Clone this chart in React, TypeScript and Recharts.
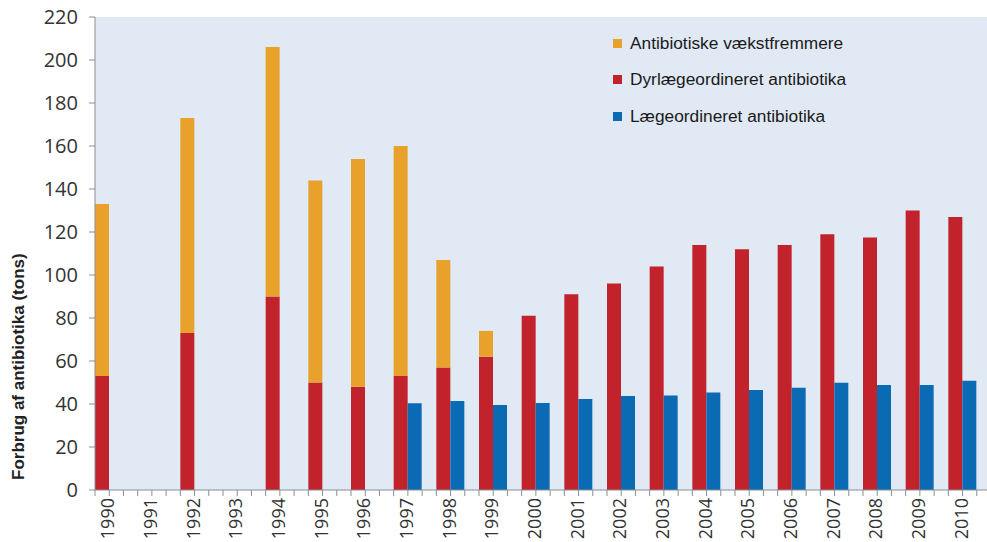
import React from 'react';
import { BarChart, Bar, XAxis, YAxis, CartesianGrid, Legend, Label } from 'recharts';

const years = ['1990', '1991', '1992', '1993', '1994', '1995', '1996', '1997', '1998', '1999', '2000',
  '2001', '2002', '2003', '2004', '2005', '2006', '2007', '2008', '2009', '2010'];
// Dyrlægeordineret antibiotika (tons)
const dyrlaege = [53, null, 73, null, 90, 50, 48, 53, 57, 62, 81, 91, 96, 104, 114, 112, 114, 119, 117.5, 130, 127];
// Antibiotiske vækstfremmere (stacked on top of dyrlæge)
const vaekst = [80, null, 100, null, 116, 94, 106, 107, 50, 12, null, null, null, null, null, null, null, null, null, null, null];
// Lægeordineret antibiotika (tons)
const laege = [null, null, null, null, null, null, null, 40.3, 41.4, 39.5, 40.5, 42.3, 43.7, 44, 45.4, 46.5, 47.6, 49.9, 48.8, 48.8, 50.8];
const yTicks = [0, 20, 40, 60, 80, 100, 120, 140, 160, 180, 200, 220];

const series = [
  { key: 'vaekst', name: 'Antibiotiske vækstfremmere', color: '#e8a22b' },
  { key: 'dyrlaege', name: 'Dyrlægeordineret antibiotika', color: '#c1222b' },
  { key: 'laege', name: 'Lægeordineret antibiotika', color: '#0b6ab4' },
];

const data = years.map((year, i) => ({
  year,
  dyrlaege: dyrlaege[i],
  vaekst: vaekst[i],
  laege: laege[i],
}));

const CHART_W = 991;
const CHART_H = 542;
const Y_W = 95;
const BAND = (CHART_W - Y_W) / years.length;
const AXIS_GREY = '#8a8f96';
const TEXT = '#333333';

const YearTick = (props: any) => {
  const { x, y, payload } = props;
  const left = x - BAND / 2;
  const mid = x - BAND / 6;
  const right = x + BAND / 6;
  return (
    <g>
      {[left, mid, right].map((tx, i) => (
        <line key={i} x1={tx} x2={tx} y1={y - 8} y2={y - 2} stroke={AXIS_GREY} strokeWidth={1} />
      ))}
      <text
        x={mid + 5}
        y={y}
        transform={`rotate(-90, ${mid + 5}, ${y})`}
        textAnchor="end"
        fontFamily="Open Sans"
        fontSize={18}
        fill={TEXT}
      >
        {payload.value}
      </text>
    </g>
  );
};

const LegendBox = () => (
  <div style={{ fontFamily: 'Liberation Sans, Arial', fontSize: 17.3, color: '#1a1a1a' }}>
    {series.map((s) => (
      <div key={s.key} style={{ display: 'flex', alignItems: 'center', height: 36.5 }}>
        <span style={{ width: 9, height: 9, background: s.color, marginRight: 8, display: 'inline-block' }} />
        <span>{s.name}</span>
      </div>
    ))}
  </div>
);

const App = () => (
  <div style={{ position: 'absolute', left: 0, top: 0, width: 987, height: CHART_H, overflow: 'hidden', background: '#fff' }}>
    <BarChart
      width={CHART_W}
      height={CHART_H}
      data={data}
      margin={{ top: 17, right: 0, bottom: 0, left: 0 }}
      barCategoryGap={0}
      barGap={0}
    >
      <CartesianGrid fill="#e1e9f5" horizontal={false} vertical={false} />
      <XAxis
        dataKey="year"
        interval={0}
        height={52}
        tickSize={6}
        tickMargin={2}
        tickLine={false}
        tick={<YearTick />}
        axisLine={{ stroke: AXIS_GREY }}
      />
      <YAxis
        width={Y_W}
        domain={[0, 220]}
        ticks={yTicks}
        interval={0}
        tickSize={6}
        tickMargin={11}
        axisLine={{ stroke: AXIS_GREY }}
        tickLine={{ stroke: AXIS_GREY }}
        tick={{ fontFamily: 'Open Sans', fontSize: 20, fill: TEXT }}
      >
        <Label
          content={(p: any) => {
            const vb = p.viewBox;
            const lx = vb.x + 24;
            const ly = vb.y + vb.height - 10;
            return (
              <text
                x={lx}
                y={ly}
                transform={`rotate(-90, ${lx}, ${ly})`}
                textAnchor="start"
                fontFamily="Liberation Sans, Arial"
                fontWeight="bold"
                fontSize={17}
                fill="#222"
              >
                Forbrug af antibiotika (tons)
              </text>
            );
          }}
        />
      </YAxis>
      <Legend
        content={<LegendBox />}
        layout="vertical"
        align="center"
        verticalAlign="middle"
        wrapperStyle={{ left: 613, top: 25, width: 320 }}
      />
      <Bar dataKey="dyrlaege" stackId="a" name="Dyrlægeordineret antibiotika" fill="#c1222b" isAnimationActive={false} />
      <Bar dataKey="vaekst" stackId="a" name="Antibiotiske vækstfremmere" fill="#e8a22b" isAnimationActive={false} />
      <Bar dataKey="laege" name="Lægeordineret antibiotika" fill="#0b6ab4" isAnimationActive={false} />
      <Bar dataKey="spacer" fill="none" legendType="none" isAnimationActive={false} />
    </BarChart>
  </div>
);

export default App;
